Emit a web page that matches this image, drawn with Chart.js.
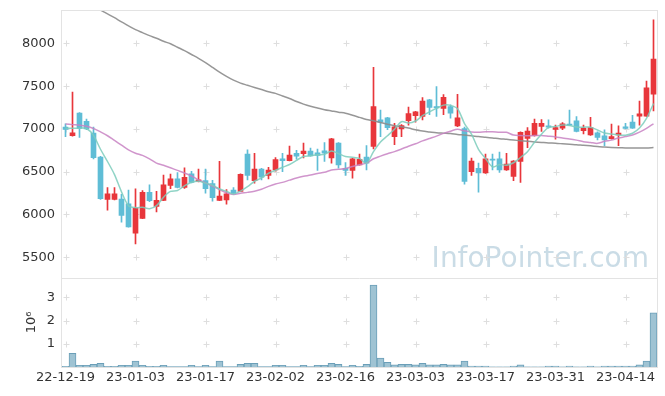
<!DOCTYPE html>
<html>
<head>
<meta charset="utf-8">
<script src="https://cdn.jsdelivr.net/npm/chart.js@4.4.0/dist/chart.umd.min.js"></script>
<style>
  html, body { margin: 0; padding: 0; background: #fff; }
</style>
</head>
<body>
<canvas id="chart" width="665" height="396"></canvas>
<script>
// trading days (KRX), labels every 10th day
const dates = [
  '22-12-19','22-12-20','22-12-21','22-12-22','22-12-23','22-12-26','22-12-27','22-12-28','22-12-29',
  '23-01-02','23-01-03','23-01-04','23-01-05','23-01-06','23-01-09','23-01-10','23-01-11','23-01-12','23-01-13',
  '23-01-16','23-01-17','23-01-18','23-01-19','23-01-20','23-01-25','23-01-26','23-01-27','23-01-30','23-01-31',
  '23-02-01','23-02-02','23-02-03','23-02-06','23-02-07','23-02-08','23-02-09','23-02-10','23-02-13','23-02-14',
  '23-02-15','23-02-16','23-02-17','23-02-20','23-02-21','23-02-22','23-02-23','23-02-24','23-02-27','23-02-28',
  '23-03-02','23-03-03','23-03-06','23-03-07','23-03-08','23-03-09','23-03-10','23-03-13','23-03-14','23-03-15',
  '23-03-16','23-03-17','23-03-20','23-03-21','23-03-22','23-03-23','23-03-24','23-03-27','23-03-28','23-03-29',
  '23-03-30','23-03-31','23-04-03','23-04-04','23-04-05','23-04-06','23-04-07','23-04-10','23-04-11','23-04-12',
  '23-04-13','23-04-14','23-04-17','23-04-18','23-04-19','23-04-20'
];

const opens = [
  7020,6920,7185,7090,6950,6670,6175,6175,6180,6125,
  5780,5955,6260,6095,6165,6340,6415,6315,6475,6385,
  6395,6360,6165,6170,6285,6270,6705,6395,6530,6455,
  6520,6650,6630,6715,6710,6740,6720,6745,6660,6835,
  6540,6515,6580,6670,6795,7105,7130,6910,7000,7095,
  7155,7145,7340,7260,7240,7260,7035,7005,6500,6540,
  6485,6645,6650,6520,6445,6620,6890,6920,7030,7035,
  6995,7010,7050,7095,6980,6930,6955,6920,6885,6930,
  7025,7080,7150,7150,7405
];
const highs = [
  7060,7430,7190,7115,7020,6680,6315,6315,6235,6285,
  6300,6280,6345,6270,6460,6472,6490,6545,6505,6530,
  6530,6400,6620,6290,6315,6475,6755,6715,6540,6550,
  6665,6715,6800,6750,6835,6775,6765,6840,6890,6840,
  6605,6655,6705,6805,7720,7220,7135,7065,7050,7255,
  7205,7365,7345,7495,7400,7280,7405,7020,6660,6600,
  6705,6705,6730,6715,6630,6965,7015,7115,7110,7105,
  7045,7075,7220,7145,7045,7135,6965,6990,7055,7035,
  7065,7160,7325,7560,8275
];
const lows = [
  6910,6915,6900,6990,6650,6175,6050,6170,5910,5850,
  5655,5950,6150,6030,6160,6300,6310,6305,6370,6380,
  6250,6155,6160,6120,6240,6265,6405,6365,6405,6415,
  6505,6500,6625,6645,6660,6680,6515,6620,6600,6540,
  6455,6425,6575,6520,6765,6910,6990,6815,6910,7045,
  7080,7105,7165,7145,7165,7125,7025,6355,6455,6260,
  6480,6520,6490,6515,6395,6375,6780,6915,6970,7010,
  6880,6990,7040,6965,6940,6925,6870,6805,6880,6805,
  7000,7005,7045,7145,7210
];
const closes = [
  6995,6955,7005,7000,6665,6185,6240,6240,5990,5855,
  6075,6260,6160,6165,6345,6415,6315,6435,6375,6405,
  6300,6195,6215,6240,6245,6470,6455,6530,6435,6520,
  6640,6630,6695,6680,6740,6685,6690,6715,6885,6580,
  6515,6650,6645,6600,7260,7080,7015,7025,7040,7180,
  7200,7325,7250,7245,7370,7185,7130,6385,6625,6485,
  6650,6635,6520,6590,6625,6960,6975,7065,7065,7020,
  7015,7060,7045,6970,7010,7015,6900,6870,6910,6950,
  7005,7010,7175,7480,7815
];

const ma5 = [
  7008,7008,7008,7005,6924,6762,6619,6466,6264,6102,
  6080,6084,6068,6103,6201,6269,6280,6335,6377,6389,
  6366,6342,6298,6271,6239,6273,6325,6388,6427,6482,
  6516,6551,6584,6633,6677,6686,6698,6702,6743,6711,
  6677,6669,6655,6598,6734,6847,6920,6996,7084,7068,
  7092,7154,7199,7240,7278,7275,7236,7063,6939,6762,
  6655,6556,6583,6576,6604,6666,6734,6843,6938,7017,
  7028,7045,7041,7022,7020,7020,6988,6953,6941,6929,
  6927,6949,7010,7124,7297
];
const ma20 = [
  7058,7050,7043,7030,7005,6965,6920,6865,6810,6755,
  6716,6690,6650,6600,6575,6545,6515,6485,6450,6404,
  6369,6331,6292,6254,6233,6247,6258,6272,6295,6328,
  6356,6375,6401,6427,6447,6460,6479,6493,6519,6527,
  6538,6561,6582,6600,6651,6682,6710,6734,6765,6798,
  6826,6860,6888,6916,6948,6973,6995,6978,6965,6961,
  6967,6967,6960,6960,6928,6922,6920,6922,6923,6915,
  6906,6893,6883,6869,6851,6842,6831,6855,6869,6893,
  6910,6929,6962,7006,7060
];
const ma60 = [
  8620,8575,8530,8485,8440,8390,8345,8300,8250,8205,
  8160,8125,8090,8060,8025,7995,7955,7915,7870,7825,
  7775,7720,7665,7615,7570,7535,7510,7485,7460,7435,
  7415,7385,7355,7320,7290,7265,7245,7225,7210,7195,
  7183,7160,7135,7110,7095,7075,7055,7038,7025,7010,
  6990,6975,6965,6955,6950,6945,6935,6928,6920,6910,
  6903,6895,6885,6878,6870,6862,6855,6848,6842,6836,
  6832,6826,6820,6815,6808,6802,6795,6788,6783,6780,
  6778,6777,6777,6778,6782
];

const volumes = [
  30000,590000,70000,70000,120000,160000,30000,30000,70000,70000,
  260000,70000,30000,30000,70000,20000,20000,20000,70000,20000,
  70000,20000,260000,20000,20000,120000,160000,160000,20000,20000,
  70000,70000,20000,20000,70000,20000,70000,70000,160000,120000,
  20000,70000,30000,120000,3520000,380000,200000,90000,120000,120000,
  90000,160000,90000,90000,120000,90000,90000,260000,40000,40000,
  40000,10000,10000,10000,40000,90000,10000,10000,10000,40000,
  40000,10000,40000,10000,10000,40000,10000,40000,40000,40000,
  40000,40000,90000,260000,2330000
];

const priceTicks = [5500, 6000, 6500, 7000, 7500, 8000];
const volumeTicks = [1000000, 2000000, 3000000];

const UP = '#e8363b';
const DOWN = '#5fbdd6';
const candleColors = closes.map((c, i) => c >= opens[i] ? UP : DOWN);

const FONT = { family: 'DejaVu Sans', size: 13 };

// light crosses at grid intersections, watermark, panel frames
const deco = {
  id: 'deco',
  beforeDatasetsDraw(chart) {
    const { ctx, chartArea: a, scales } = chart;
    const x = scales.x, y = scales.y, v = scales.v;
    ctx.save();
    ctx.font = '28px "DejaVu Sans"';
    ctx.fillStyle = '#cadce6';
    ctx.textAlign = 'right';
    ctx.textBaseline = 'alphabetic';
    ctx.fillText('InfoPointer.com', a.right - 8, y.bottom - 11);

    ctx.strokeStyle = '#dedede';
    ctx.lineWidth = 1;
    const cross = (px, py) => {
      px = Math.round(px) + 0.5; py = Math.round(py) + 0.5;
      ctx.beginPath();
      ctx.moveTo(px - 3, py); ctx.lineTo(px + 3, py);
      ctx.moveTo(px, py - 3); ctx.lineTo(px, py + 3);
      ctx.stroke();
    };
    for (let i = 0; i < dates.length; i += 10) {
      const px = x.getPixelForValue(i);
      priceTicks.forEach(t => cross(px, y.getPixelForValue(t)));
      volumeTicks.forEach(t => cross(px, v.getPixelForValue(t)));
    }
    ctx.restore();
  },
  afterDraw(chart) {
    const { ctx, chartArea: a, scales } = chart;
    ctx.save();
    ctx.strokeStyle = '#e3e3e3';
    ctx.lineWidth = 1;
    ctx.strokeRect(Math.round(a.left) - 0.5, Math.round(a.top) + 0.5,
      Math.round(a.right - a.left) + 1, Math.round(a.bottom - a.top));
    const sy = Math.round(scales.y.bottom) + 0.5;
    ctx.beginPath();
    ctx.moveTo(a.left, sy); ctx.lineTo(a.right, sy);
    ctx.stroke();
    ctx.restore();
  }
};

const maLine = (data, color, order) => ({
  type: 'line',
  data: data,
  yAxisID: 'y',
  borderColor: color,
  borderWidth: 1.5,
  pointRadius: 0,
  pointHoverRadius: 0,
  tension: 0.3,
  fill: false,
  order: order
});

new Chart(document.getElementById('chart'), {
  data: {
    labels: dates,
    datasets: [
      maLine(ma5, 'rgba(125,205,188,0.85)', 0),
      maLine(ma20, 'rgba(200,130,195,0.85)', 1),
      maLine(ma60, 'rgba(140,140,140,0.9)', 2),
      {
        type: 'bar',
        data: opens.map((o, i) => [o, closes[i]]),
        yAxisID: 'y',
        backgroundColor: candleColors,
        barThickness: 5,
        minBarLength: 1,
        grouped: false,
        order: 3
      },
      {
        type: 'bar',
        data: lows.map((l, i) => [l, highs[i]]),
        yAxisID: 'y',
        backgroundColor: candleColors,
        barThickness: 1,
        grouped: false,
        order: 4
      },
      {
        type: 'bar',
        data: volumes,
        yAxisID: 'v',
        backgroundColor: '#9fc3d3',
        borderColor: '#6b9fb8',
        borderWidth: 1,
        barPercentage: 1,
        categoryPercentage: 1,
        grouped: false,
        order: 5
      }
    ]
  },
  options: {
    responsive: false,
    animation: false,
    layout: { autoPadding: false, padding: { top: 10, right: 8, left: 0, bottom: 0 } },
    plugins: { legend: { display: false }, tooltip: { enabled: false } },
    scales: {
      x: {
        type: 'category',
        offset: true,
        grid: { display: false, drawTicks: false },
        border: { display: false },
        ticks: {
          autoSkip: false,
          maxRotation: 0,
          padding: 3,
          color: '#333',
          font: FONT,
          callback: (val, i) => i % 10 === 0 ? dates[i] : null
        },
        afterFit: s => { s.height = 29; }
      },
      v: {
        position: 'left',
        stack: 'panels',
        stackWeight: 1,
        min: 0,
        max: 3840000,
        grid: { display: false, drawTicks: false },
        border: { display: false },
        title: { display: true, text: '10⁶', color: '#333', font: FONT, padding: { top: 24, bottom: 0 } },
        ticks: {
          padding: 7,
          color: '#333',
          font: FONT,
          callback: val => String(val / 1000000)
        },
        afterBuildTicks: s => { s.ticks = volumeTicks.map(t => ({ value: t })); },
        afterFit: s => { s.width = 62; s.paddingTop = 0; s.paddingBottom = 0; }
      },
      y: {
        position: 'left',
        stack: 'panels',
        stackWeight: 3,
        min: 5260,
        max: 8390,
        grid: { display: false, drawTicks: false },
        border: { display: false },
        ticks: { padding: 7, color: '#333', font: FONT, callback: val => String(val) },
        afterBuildTicks: s => { s.ticks = priceTicks.map(t => ({ value: t })); },
        afterFit: s => { s.width = 62; s.paddingTop = 0; s.paddingBottom = 0; }
      }
    }
  },
  plugins: [deco]
});
</script>
</body>
</html>
